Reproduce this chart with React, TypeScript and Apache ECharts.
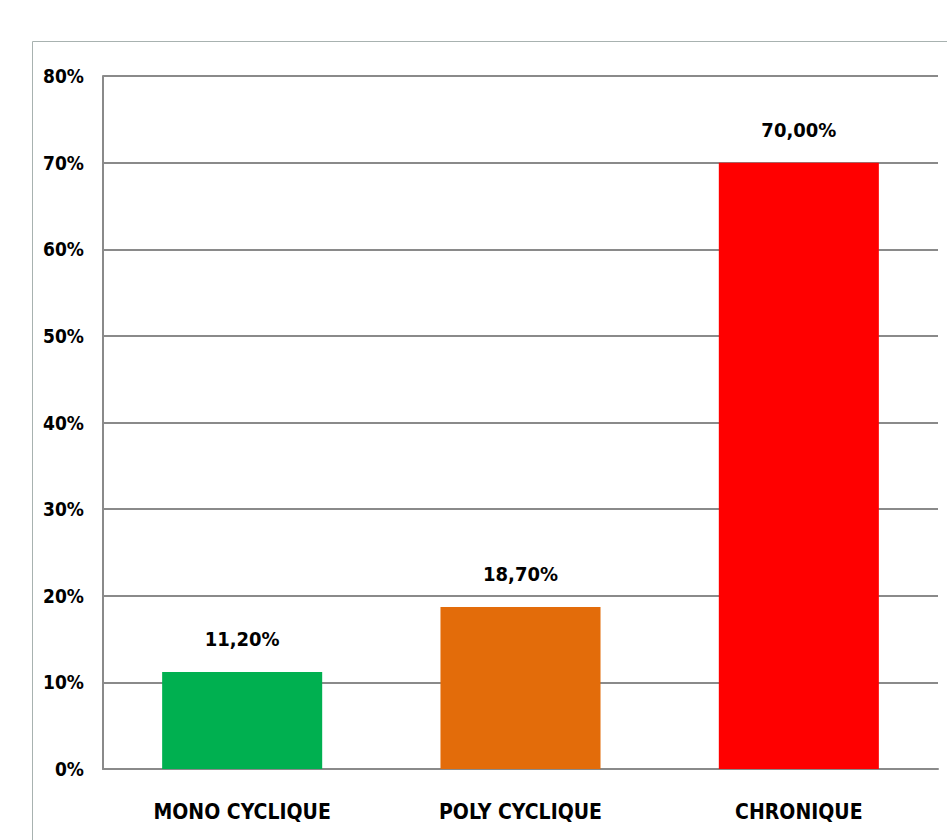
import React, { useEffect, useRef } from "react";
import * as echarts from "echarts";

const categories = ["MONO CYCLIQUE", "POLY CYCLIQUE", "CHRONIQUE"];
const values = [11.2, 18.7, 70.0];
const barColors = ["#00B050", "#E36C0A", "#FF0000"];
const yTicks = [0, 10, 20, 30, 40, 50, 60, 70, 80];

const FONT = "'Liberation Sans Narrow', 'DejaVu Sans Condensed', 'Roboto Condensed', sans-serif";

export default function App() {
  const ref = useRef<HTMLDivElement>(null);
  useEffect(() => {
    const chart = echarts.init(ref.current!, null, { renderer: "svg" });
    chart.setOption({
      animation: false,
      backgroundColor: "#ffffff",
      graphic: [
        { type: "line", shape: { x1: 32.5, y1: 41.5, x2: 947, y2: 41.5 }, style: { stroke: "#a8b2b0", lineWidth: 1 } },
        { type: "line", shape: { x1: 32.5, y1: 41.5, x2: 32.5, y2: 840 }, style: { stroke: "#a8b2b0", lineWidth: 1 } },
      ],
      grid: { left: 103, right: 9, top: 76, bottom: 71, containLabel: false },
      xAxis: {
        type: "category",
        data: categories,
        axisLine: { show: true, lineStyle: { color: "#8a8a8a", width: 2 } },
        axisTick: { show: false },
        axisLabel: { interval: 0, color: "#000", fontFamily: FONT, fontWeight: "bold", fontSize: 21, margin: 32 },
      },
      yAxis: {
        type: "value",
        min: yTicks[0],
        max: yTicks[yTicks.length - 1],
        interval: 10,
        axisLine: { show: true, lineStyle: { color: "#8a8a8a", width: 2 } },
        axisTick: { show: false },
        splitLine: { show: true, lineStyle: { color: "#8a8a8a", width: 2 } },
        axisLabel: { color: "#000", fontFamily: FONT, fontWeight: "bold", fontSize: 19, margin: 19, formatter: "{value}%" },
      },
      series: [
        {
          type: "bar",
          data: values.map((v, i) => ({ value: v, itemStyle: { color: barColors[i] } })),
          barWidth: "57.5%",
          label: {
            show: true,
            position: "top",
            distance: 23,
            color: "#000",
            fontFamily: FONT,
            fontWeight: "bold",
            fontSize: 20,
            formatter: (p: any) => p.value.toFixed(2).replace(".", ",") + "%",
          },
        },
      ],
    });
    return () => chart.dispose();
  }, []);
  return <div ref={ref} style={{ width: 947, height: 840, position: "absolute", left: 0, top: 0 }} />;
}
